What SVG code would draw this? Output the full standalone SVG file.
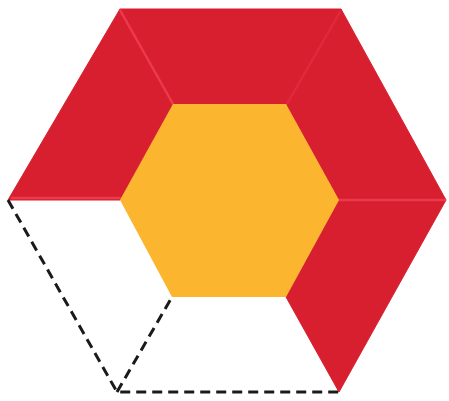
<svg xmlns="http://www.w3.org/2000/svg" width="449" height="401" viewBox="0 0 449 401">
<style>
.red{fill:#d81f2f;stroke:#d81f2f;stroke-width:1;stroke-linejoin:round}
.seam{stroke:#ec3a4d;stroke-width:2.5;fill:none;stroke-linecap:round}
.dash{stroke:#1a1a1a;stroke-width:3;fill:none;stroke-dasharray:10 6}
</style>
<rect width="449" height="401" fill="#ffffff"/>
<g id="trap-left-top"><polygon class="red" points="8,200 120,9 173,104 120,200"/></g>
<g id="trap-top"><polygon class="red" points="120,9 341,9 286,104 173,104"/></g>
<g id="trap-right-top"><polygon class="red" points="341,9 446,200 339,200 286,104"/></g>
<g id="trap-right-bottom"><polygon class="red" points="446,200 339,392 286,297 339,200"/></g>
<g id="seams">
<line class="seam" x1="120" y1="10" x2="173" y2="104"/>
<line class="seam" x1="339" y1="200" x2="445" y2="200"/>
<line class="seam" x1="12" y1="198" x2="120" y2="198"/>
<line class="seam" x1="340" y1="12" x2="287" y2="104" stroke-opacity="0.4"/>
</g>
<g id="inner-hexagon"><polygon points="120,200 173,104 286,104 339,200 286,297 172,297" fill="#fbb52e"/></g>
<g id="connectors">
<polyline class="dash" points="8,200 117,392 339,392"/>
<line class="dash" x1="117" y1="392" x2="172" y2="297"/>
</g>
</svg>
